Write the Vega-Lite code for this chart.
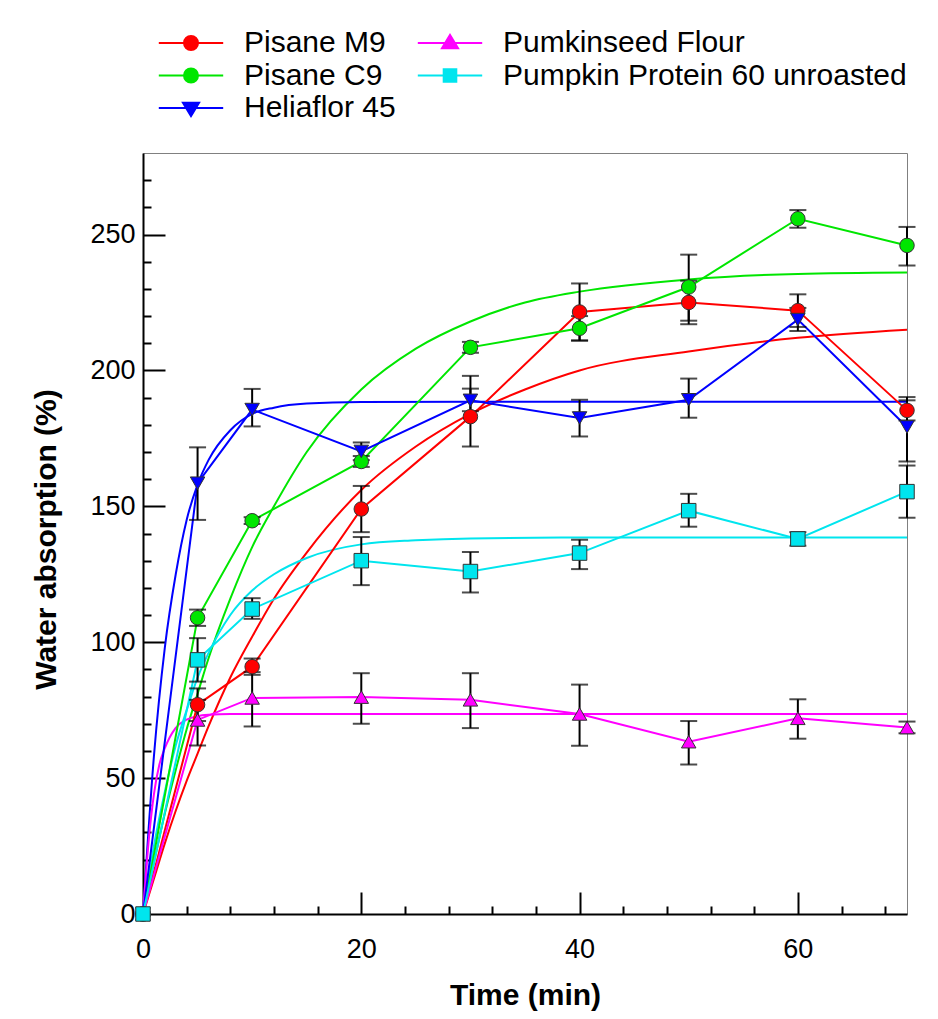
{
  "$schema": "https://vega.github.io/schema/vega-lite/v6.json",
  "width": 764,
  "height": 761,
  "autosize": "none",
  "padding": {"left": 143, "top": 153, "right": 31, "bottom": 105},
  "background": "white",
  "config": {
    "view": {"stroke": "#808080", "strokeWidth": 1},
    "font": "Liberation Sans"
  },
  "datasets": {
    "pts": [
      {"s": "Pisane M9", "t": 0, "v": 0},
      {"s": "Pisane M9", "t": 5, "v": 77, "lo": 71, "hi": 83},
      {"s": "Pisane M9", "t": 10, "v": 91, "lo": 88, "hi": 94},
      {"s": "Pisane M9", "t": 20, "v": 149, "lo": 140.5, "hi": 157.5},
      {"s": "Pisane M9", "t": 30, "v": 183, "lo": 172, "hi": 198},
      {"s": "Pisane M9", "t": 40, "v": 221.5, "lo": 211, "hi": 232},
      {"s": "Pisane M9", "t": 50, "v": 225, "lo": 217, "hi": 233},
      {"s": "Pisane M9", "t": 60, "v": 222, "lo": 216, "hi": 228},
      {"s": "Pisane M9", "t": 70, "v": 185.3, "lo": 181.6, "hi": 190.2},
      {"s": "Pisane C9", "t": 0, "v": 0},
      {"s": "Pisane C9", "t": 5, "v": 109, "lo": 106, "hi": 112},
      {"s": "Pisane C9", "t": 10, "v": 144.7, "lo": 143.5, "hi": 146},
      {"s": "Pisane C9", "t": 20, "v": 166.5, "lo": 164.5, "hi": 168.5},
      {"s": "Pisane C9", "t": 30, "v": 208.5, "lo": 206.5, "hi": 210.5},
      {"s": "Pisane C9", "t": 40, "v": 215.5, "lo": 211, "hi": 220},
      {"s": "Pisane C9", "t": 50, "v": 230.7, "lo": 218.3, "hi": 242.6},
      {"s": "Pisane C9", "t": 60, "v": 255.8, "lo": 252.5, "hi": 259},
      {"s": "Pisane C9", "t": 70, "v": 246, "lo": 238.6, "hi": 252.8},
      {"s": "Heliaflor 45", "t": 0, "v": 0},
      {"s": "Heliaflor 45", "t": 5, "v": 158.5, "lo": 145, "hi": 171.7},
      {"s": "Heliaflor 45", "t": 10, "v": 185.6, "lo": 179.4, "hi": 193.2},
      {"s": "Heliaflor 45", "t": 20, "v": 170.2, "lo": 167, "hi": 173.5},
      {"s": "Heliaflor 45", "t": 30, "v": 189, "lo": 185, "hi": 193.3},
      {"s": "Heliaflor 45", "t": 40, "v": 182.5, "lo": 175.7, "hi": 189.2},
      {"s": "Heliaflor 45", "t": 50, "v": 189.2, "lo": 182.6, "hi": 197},
      {"s": "Heliaflor 45", "t": 60, "v": 218.7, "lo": 214.5, "hi": 223},
      {"s": "Heliaflor 45", "t": 70, "v": 179.2, "lo": 166.5, "hi": 189},
      {"s": "Pumkinseed Flour", "t": 0, "v": 0},
      {"s": "Pumkinseed Flour", "t": 5, "v": 71.4, "lo": 62, "hi": 78.8},
      {"s": "Pumkinseed Flour", "t": 10, "v": 79.5, "lo": 69, "hi": 89},
      {"s": "Pumkinseed Flour", "t": 20, "v": 79.8, "lo": 70, "hi": 88.6},
      {"s": "Pumkinseed Flour", "t": 30, "v": 78.8, "lo": 68.4, "hi": 88.6},
      {"s": "Pumkinseed Flour", "t": 40, "v": 73.6, "lo": 61.9, "hi": 84.4},
      {"s": "Pumkinseed Flour", "t": 50, "v": 63.4, "lo": 55, "hi": 71},
      {"s": "Pumkinseed Flour", "t": 60, "v": 72, "lo": 64.5, "hi": 79},
      {"s": "Pumkinseed Flour", "t": 70, "v": 68.6, "lo": 66.5, "hi": 70.8},
      {"s": "Pumpkin Protein 60 unroasted", "t": 0, "v": 0},
      {"s": "Pumpkin Protein 60 unroasted", "t": 5, "v": 93.5, "lo": 85.5, "hi": 101.5},
      {"s": "Pumpkin Protein 60 unroasted", "t": 10, "v": 112.2, "lo": 108.6, "hi": 116.2},
      {"s": "Pumpkin Protein 60 unroasted", "t": 20, "v": 130, "lo": 121, "hi": 138.7},
      {"s": "Pumpkin Protein 60 unroasted", "t": 30, "v": 126, "lo": 118.3, "hi": 133.2},
      {"s": "Pumpkin Protein 60 unroasted", "t": 40, "v": 132.8, "lo": 126.9, "hi": 137.7},
      {"s": "Pumpkin Protein 60 unroasted", "t": 50, "v": 148.4, "lo": 142.5, "hi": 154.6},
      {"s": "Pumpkin Protein 60 unroasted", "t": 60, "v": 138, "lo": 135.5, "hi": 140.5},
      {"s": "Pumpkin Protein 60 unroasted", "t": 70, "v": 155.4, "lo": 145.8, "hi": 165}
    ],
    "fits": [
      {"s": "Pisane M9", "t": 0, "v": 0},
      {"s": "Pisane M9", "t": 1, "v": 13},
      {"s": "Pisane M9", "t": 2, "v": 26},
      {"s": "Pisane M9", "t": 3, "v": 38},
      {"s": "Pisane M9", "t": 4, "v": 49},
      {"s": "Pisane M9", "t": 5, "v": 59},
      {"s": "Pisane M9", "t": 6, "v": 69},
      {"s": "Pisane M9", "t": 8, "v": 87},
      {"s": "Pisane M9", "t": 10, "v": 102},
      {"s": "Pisane M9", "t": 12, "v": 116},
      {"s": "Pisane M9", "t": 15, "v": 133},
      {"s": "Pisane M9", "t": 20, "v": 156},
      {"s": "Pisane M9", "t": 25, "v": 172},
      {"s": "Pisane M9", "t": 30, "v": 184},
      {"s": "Pisane M9", "t": 35, "v": 193},
      {"s": "Pisane M9", "t": 40, "v": 200},
      {"s": "Pisane M9", "t": 50, "v": 207},
      {"s": "Pisane M9", "t": 60, "v": 212},
      {"s": "Pisane M9", "t": 70, "v": 215},
      {"s": "Pisane C9", "t": 0, "v": 0},
      {"s": "Pisane C9", "t": 1, "v": 19},
      {"s": "Pisane C9", "t": 2, "v": 37},
      {"s": "Pisane C9", "t": 3, "v": 53},
      {"s": "Pisane C9", "t": 4, "v": 68},
      {"s": "Pisane C9", "t": 5, "v": 81},
      {"s": "Pisane C9", "t": 6, "v": 94},
      {"s": "Pisane C9", "t": 8, "v": 116},
      {"s": "Pisane C9", "t": 10, "v": 135},
      {"s": "Pisane C9", "t": 12, "v": 150},
      {"s": "Pisane C9", "t": 15, "v": 170},
      {"s": "Pisane C9", "t": 20, "v": 193},
      {"s": "Pisane C9", "t": 25, "v": 208},
      {"s": "Pisane C9", "t": 30, "v": 218},
      {"s": "Pisane C9", "t": 35, "v": 225},
      {"s": "Pisane C9", "t": 40, "v": 229},
      {"s": "Pisane C9", "t": 50, "v": 233.5},
      {"s": "Pisane C9", "t": 60, "v": 235.5},
      {"s": "Pisane C9", "t": 70, "v": 236},
      {"s": "Heliaflor 45", "t": 0, "v": 0},
      {"s": "Heliaflor 45", "t": 1, "v": 58},
      {"s": "Heliaflor 45", "t": 2, "v": 98},
      {"s": "Heliaflor 45", "t": 3, "v": 125},
      {"s": "Heliaflor 45", "t": 4, "v": 145},
      {"s": "Heliaflor 45", "t": 5, "v": 158},
      {"s": "Heliaflor 45", "t": 6, "v": 167},
      {"s": "Heliaflor 45", "t": 8, "v": 178},
      {"s": "Heliaflor 45", "t": 10, "v": 184},
      {"s": "Heliaflor 45", "t": 12, "v": 186.3},
      {"s": "Heliaflor 45", "t": 15, "v": 187.8},
      {"s": "Heliaflor 45", "t": 20, "v": 188.4},
      {"s": "Heliaflor 45", "t": 30, "v": 188.5},
      {"s": "Heliaflor 45", "t": 50, "v": 188.5},
      {"s": "Heliaflor 45", "t": 70, "v": 188.5},
      {"s": "Pumkinseed Flour", "t": 0, "v": 0},
      {"s": "Pumkinseed Flour", "t": 0.5, "v": 26},
      {"s": "Pumkinseed Flour", "t": 1, "v": 44},
      {"s": "Pumkinseed Flour", "t": 1.5, "v": 55},
      {"s": "Pumkinseed Flour", "t": 2, "v": 61},
      {"s": "Pumkinseed Flour", "t": 3, "v": 68.5},
      {"s": "Pumkinseed Flour", "t": 4, "v": 71.5},
      {"s": "Pumkinseed Flour", "t": 5, "v": 72.8},
      {"s": "Pumkinseed Flour", "t": 6, "v": 73.3},
      {"s": "Pumkinseed Flour", "t": 8, "v": 73.6},
      {"s": "Pumkinseed Flour", "t": 20, "v": 73.6},
      {"s": "Pumkinseed Flour", "t": 40, "v": 73.6},
      {"s": "Pumkinseed Flour", "t": 70, "v": 73.6},
      {"s": "Pumpkin Protein 60 unroasted", "t": 0, "v": 0},
      {"s": "Pumpkin Protein 60 unroasted", "t": 1, "v": 25},
      {"s": "Pumpkin Protein 60 unroasted", "t": 2, "v": 45},
      {"s": "Pumpkin Protein 60 unroasted", "t": 3, "v": 62},
      {"s": "Pumpkin Protein 60 unroasted", "t": 4, "v": 75},
      {"s": "Pumpkin Protein 60 unroasted", "t": 5, "v": 87},
      {"s": "Pumpkin Protein 60 unroasted", "t": 6, "v": 96},
      {"s": "Pumpkin Protein 60 unroasted", "t": 8, "v": 110},
      {"s": "Pumpkin Protein 60 unroasted", "t": 10, "v": 119},
      {"s": "Pumpkin Protein 60 unroasted", "t": 12, "v": 125},
      {"s": "Pumpkin Protein 60 unroasted", "t": 15, "v": 131},
      {"s": "Pumpkin Protein 60 unroasted", "t": 20, "v": 136},
      {"s": "Pumpkin Protein 60 unroasted", "t": 25, "v": 137.5},
      {"s": "Pumpkin Protein 60 unroasted", "t": 30, "v": 138.2},
      {"s": "Pumpkin Protein 60 unroasted", "t": 40, "v": 138.5},
      {"s": "Pumpkin Protein 60 unroasted", "t": 70, "v": 138.5}
    ]
  },
  "encoding": {
    "x": {"field": "t", "type": "quantitative", "scale": {"domain": [0, 70], "nice": false, "zero": false}},
    "y": {"field": "v", "type": "quantitative", "scale": {"domain": [0, 280], "nice": false, "zero": false}},
    "color": {
      "field": "s", "type": "nominal",
      "scale": {
        "domain": ["Pisane M9", "Pisane C9", "Heliaflor 45", "Pumkinseed Flour", "Pumpkin Protein 60 unroasted"],
        "range": ["#ff0000", "#00e600", "#0000ff", "#ff00ff", "#00e5ee"]
      },
      "legend": {
        "title": null, "orient": "none", "legendX": -1, "legendY": -125,
        "columns": 2, "columnPadding": 5, "rowPadding": 2.5, "padding": 0,
        "labelFont": "Liberation Sans", "labelFontSize": 30, "labelColor": "black", "labelLimit": 0,
        "symbolSize": 196, "symbolOffset": 34, "labelOffset": 38, "symbolStrokeWidth": 2, "symbolOpacity": 1
      }
    }
  },
  "layer": [
    {
      "data": {"name": "fits"},
      "mark": {"type": "line", "interpolate": "monotone", "strokeWidth": 2},
      "encoding": {
        "x": {"field": "t", "type": "quantitative", "axis": {
          "orient": "bottom", "values": [0, 20, 40, 60], "ticks": false, "grid": false, "labelFlush": false,
          "domainColor": "black", "domainWidth": 2,
          "labelFont": "Liberation Sans", "labelFontSize": 27, "labelColor": "black", "labelPadding": 22,
          "title": "Time (min)", "titleFont": "Liberation Sans", "titleFontSize": 30, "titleFontWeight": "bold", "titleColor": "black", "titlePadding": 18
        }},
        "y": {"field": "v", "type": "quantitative", "axis": {
          "orient": "left", "values": [0, 50, 100, 150, 200, 250], "ticks": false, "grid": false, "labelFlush": false,
          "domainColor": "black", "domainWidth": 2,
          "labelFont": "Liberation Sans", "labelFontSize": 27, "labelColor": "black", "labelPadding": 8,
          "title": "Water absorption (%)", "titleFont": "Liberation Sans", "titleFontSize": 30, "titleFontWeight": "bold", "titleColor": "black", "titlePadding": 28, "titleY": 386
        }}
      }
    },
    {
      "data": {"name": "pts"},
      "mark": {"type": "line", "strokeWidth": 2},
      "encoding": {
        "x": {"field": "t", "type": "quantitative", "axis": {
          "orient": "bottom", "values": [20, 40, 60], "tickSize": -22, "tickWidth": 2, "tickColor": "black",
          "labels": false, "domain": false, "grid": false, "title": null
        }},
        "y": {"field": "v", "type": "quantitative", "axis": {
          "orient": "left", "values": [50, 100, 150, 200, 250], "tickSize": -22, "tickWidth": 2, "tickColor": "black",
          "labels": false, "domain": false, "grid": false, "title": null
        }}
      }
    },
    {
      "data": {"name": "pts"},
      "mark": {"type": "rule", "color": "black", "strokeWidth": 2},
      "encoding": {
        "x": {"field": "t", "type": "quantitative", "axis": {
          "orient": "bottom", "values": [4, 8, 12, 16, 24, 28, 32, 36, 44, 48, 52, 56, 64, 68], "tickSize": -8, "tickWidth": 2, "tickColor": "black",
          "labels": false, "domain": false, "grid": false, "title": null
        }},
        "y": {"field": "lo", "type": "quantitative", "axis": {
          "orient": "left", "values": [10, 20, 30, 40, 60, 70, 80, 90, 110, 120, 130, 140, 160, 170, 180, 190, 210, 220, 230, 240, 260, 270], "tickSize": -8, "tickWidth": 2, "tickColor": "black",
          "labels": false, "domain": false, "grid": false, "title": null
        }},
        "y2": {"field": "hi"},
        "color": {"value": "black"}
      }
    },
    {
      "data": {"name": "pts"},
      "mark": {"type": "tick", "orient": "horizontal", "color": "black", "size": 17, "thickness": 2},
      "encoding": {
        "x": {"field": "t", "type": "quantitative", "axis": null},
        "y": {"field": "lo", "type": "quantitative", "axis": null},
        "color": {"value": "black"}
      }
    },
    {
      "data": {"name": "pts"},
      "mark": {"type": "tick", "orient": "horizontal", "color": "black", "size": 17, "thickness": 2},
      "encoding": {
        "x": {"field": "t", "type": "quantitative", "axis": null},
        "y": {"field": "hi", "type": "quantitative", "axis": null},
        "color": {"value": "black"}
      }
    },
    {
      "data": {"name": "pts"},
      "mark": {"type": "point", "filled": true, "opacity": 0},
      "encoding": {
        "x": {"field": "t", "type": "quantitative", "axis": null},
        "y": {"field": "v", "type": "quantitative", "axis": null},
        "shape": {
          "field": "s", "type": "nominal",
          "scale": {
            "domain": ["Pisane M9", "Pisane C9", "Heliaflor 45", "Pumkinseed Flour", "Pumpkin Protein 60 unroasted"],
            "range": [
              "M-4.6,0H-1M1,0H4.6M-1,0A1,1 0 1,1 1,0A1,1 0 1,1 -1,0Z",
              "M-4.6,0H-1M1,0H4.6M-1,0A1,1 0 1,1 1,0A1,1 0 1,1 -1,0Z",
              "M-4.6,0H-0.7M0.7,0H4.6M-1.15,-0.75L1.15,-0.75L0,1.15Z",
              "M-4.6,0H-0.7M0.7,0H4.6M-1.15,0.75L1.15,0.75L0,-1.15Z",
              "M-4.6,0H-0.9M0.9,0H4.6M-0.9,-0.9H0.9V0.9H-0.9Z"
            ]
          },
          "legend": {
            "title": null, "orient": "none", "legendX": -1, "legendY": -125,
            "columns": 2, "columnPadding": 5, "rowPadding": 2.5, "padding": 0,
            "labelFont": "Liberation Sans", "labelFontSize": 30, "labelColor": "black", "labelLimit": 0,
            "symbolSize": 196, "symbolOffset": 34, "labelOffset": 38, "symbolStrokeWidth": 2, "symbolOpacity": 1
          }
        }
      }
    },
    {
      "data": {"name": "pts"},
      "transform": [{"filter": {"field": "s", "oneOf": ["Pisane M9", "Pisane C9"]}}],
      "mark": {"type": "point", "shape": "circle", "filled": true, "size": 210, "stroke": "#333333", "strokeWidth": 1, "opacity": 1},
      "encoding": {
        "x": {"field": "t", "type": "quantitative", "axis": null},
        "y": {"field": "v", "type": "quantitative", "axis": null}
      }
    },
    {
      "data": {"name": "pts"},
      "transform": [{"filter": {"field": "s", "equal": "Heliaflor 45"}}],
      "mark": {"type": "point", "shape": "triangle-down", "filled": true, "size": 210, "stroke": "#333333", "strokeWidth": 1, "opacity": 1},
      "encoding": {
        "x": {"field": "t", "type": "quantitative", "axis": null},
        "y": {"field": "v", "type": "quantitative", "axis": null}
      }
    },
    {
      "data": {"name": "pts"},
      "transform": [{"filter": {"field": "s", "equal": "Pumkinseed Flour"}}],
      "mark": {"type": "point", "shape": "triangle-up", "filled": true, "size": 210, "stroke": "#333333", "strokeWidth": 1, "opacity": 1},
      "encoding": {
        "x": {"field": "t", "type": "quantitative", "axis": null},
        "y": {"field": "v", "type": "quantitative", "axis": null}
      }
    },
    {
      "data": {"name": "pts"},
      "transform": [{"filter": {"field": "s", "equal": "Pumpkin Protein 60 unroasted"}}],
      "mark": {"type": "point", "shape": "square", "filled": true, "size": 210, "stroke": "#333333", "strokeWidth": 1, "opacity": 1},
      "encoding": {
        "x": {"field": "t", "type": "quantitative", "axis": null},
        "y": {"field": "v", "type": "quantitative", "axis": null}
      }
    }
  ],
  "resolve": {"axis": {"x": "independent", "y": "independent"}}
}
